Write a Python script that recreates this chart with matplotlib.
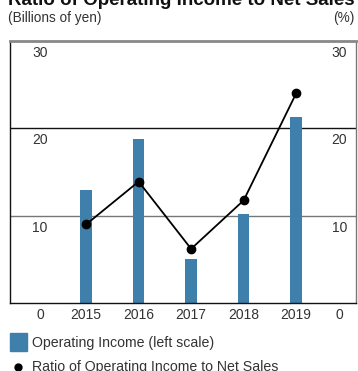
import matplotlib.pyplot as plt

plt.rcParams['font.family'] = ['Liberation Sans', 'DejaVu Sans']

years = ["2015", "2016", "2017", "2018", "2019"]
operating_income = [12.9, 18.8, 5.0, 10.2, 21.3]
income_ratio = [9.0, 13.9, 6.2, 11.75, 24.0]
y_ticks = [0, 10, 20, 30]

bar_color = "#3f7fab"
text_color = "#333333"

fig = plt.figure(figsize=(3.58, 3.71), dpi=100)
ax1 = fig.add_axes([10 / 358, 68 / 371, 346 / 358, 262 / 371])
x = list(range(len(years)))

ax1.bar(x, operating_income, width=0.22, color=bar_color, zorder=2)
ax1.set_xlim(-1.45, 5.14)
ax1.set_ylim(0, 30)
ax1.set_xticks([])
ax1.set_yticks([])

# frame and grid lines
for side in ["left", "bottom"]:
    ax1.spines[side].set_color("#111111")
    ax1.spines[side].set_linewidth(1.0)
ax1.spines["right"].set_color("#777777")
ax1.spines["right"].set_linewidth(1.0)
ax1.spines["top"].set_color("#888888")
ax1.spines["top"].set_linewidth(2.0)
ax1.axhline(20, color="#111111", lw=1.0, zorder=1)
ax1.axhline(10, color="#777777", lw=1.0, zorder=1)

ax2 = ax1.twinx()
ax2.set_ylim(0, 30)
ax2.set_yticks([])
for s in ax2.spines.values():
    s.set_visible(False)
ax2.plot(x, income_ratio, color="black", lw=1.3, marker="o", markersize=6, zorder=3)

# scale labels inside the frame, just under each line
off = 1.37
for v in y_ticks:
    ax1.text(-0.88, v - off, str(v), ha="center", va="center", fontsize=10,
             color=text_color, clip_on=False)
    ax1.text(4.82, v - off, str(v), ha="center", va="center", fontsize=10,
             color=text_color, clip_on=False)
for xi, yr in zip(x, years):
    ax1.text(xi, -off, yr, ha="center", va="center", fontsize=10,
             color=text_color, clip_on=False)

fig.text(8 / 358, 1 - 5 / 371, "Ratio of Operating Income to Net Sales", ha="left",
         va="baseline", fontsize=13.5, fontweight="bold", color="#111111")
fig.text(8 / 358, 1 - 18 / 371, "(Billions of yen)", ha="left", va="center",
         fontsize=9.8, color=text_color)
fig.text(355 / 358, 1 - 18 / 371, "(%)", ha="right", va="center",
         fontsize=9.8, color=text_color)

# legend
fig.patches.append(plt.Rectangle((10 / 358, 1 - 351 / 371), 17 / 358, 18 / 371,
                                 transform=fig.transFigure, color=bar_color))
fig.text(32 / 358, 1 - 343 / 371, "Operating Income (left scale)", ha="left",
         va="center", fontsize=10.2, color=text_color)
fig.add_artist(plt.Line2D([18 / 358], [1 - 367 / 371], marker="o", markersize=5,
                          color="black", transform=fig.transFigure))
fig.text(32 / 358, 1 - 367 / 371, "Ratio of Operating Income to Net Sales", ha="left",
         va="center", fontsize=10.2, color=text_color)

fig.savefig("out.png", dpi=100)
